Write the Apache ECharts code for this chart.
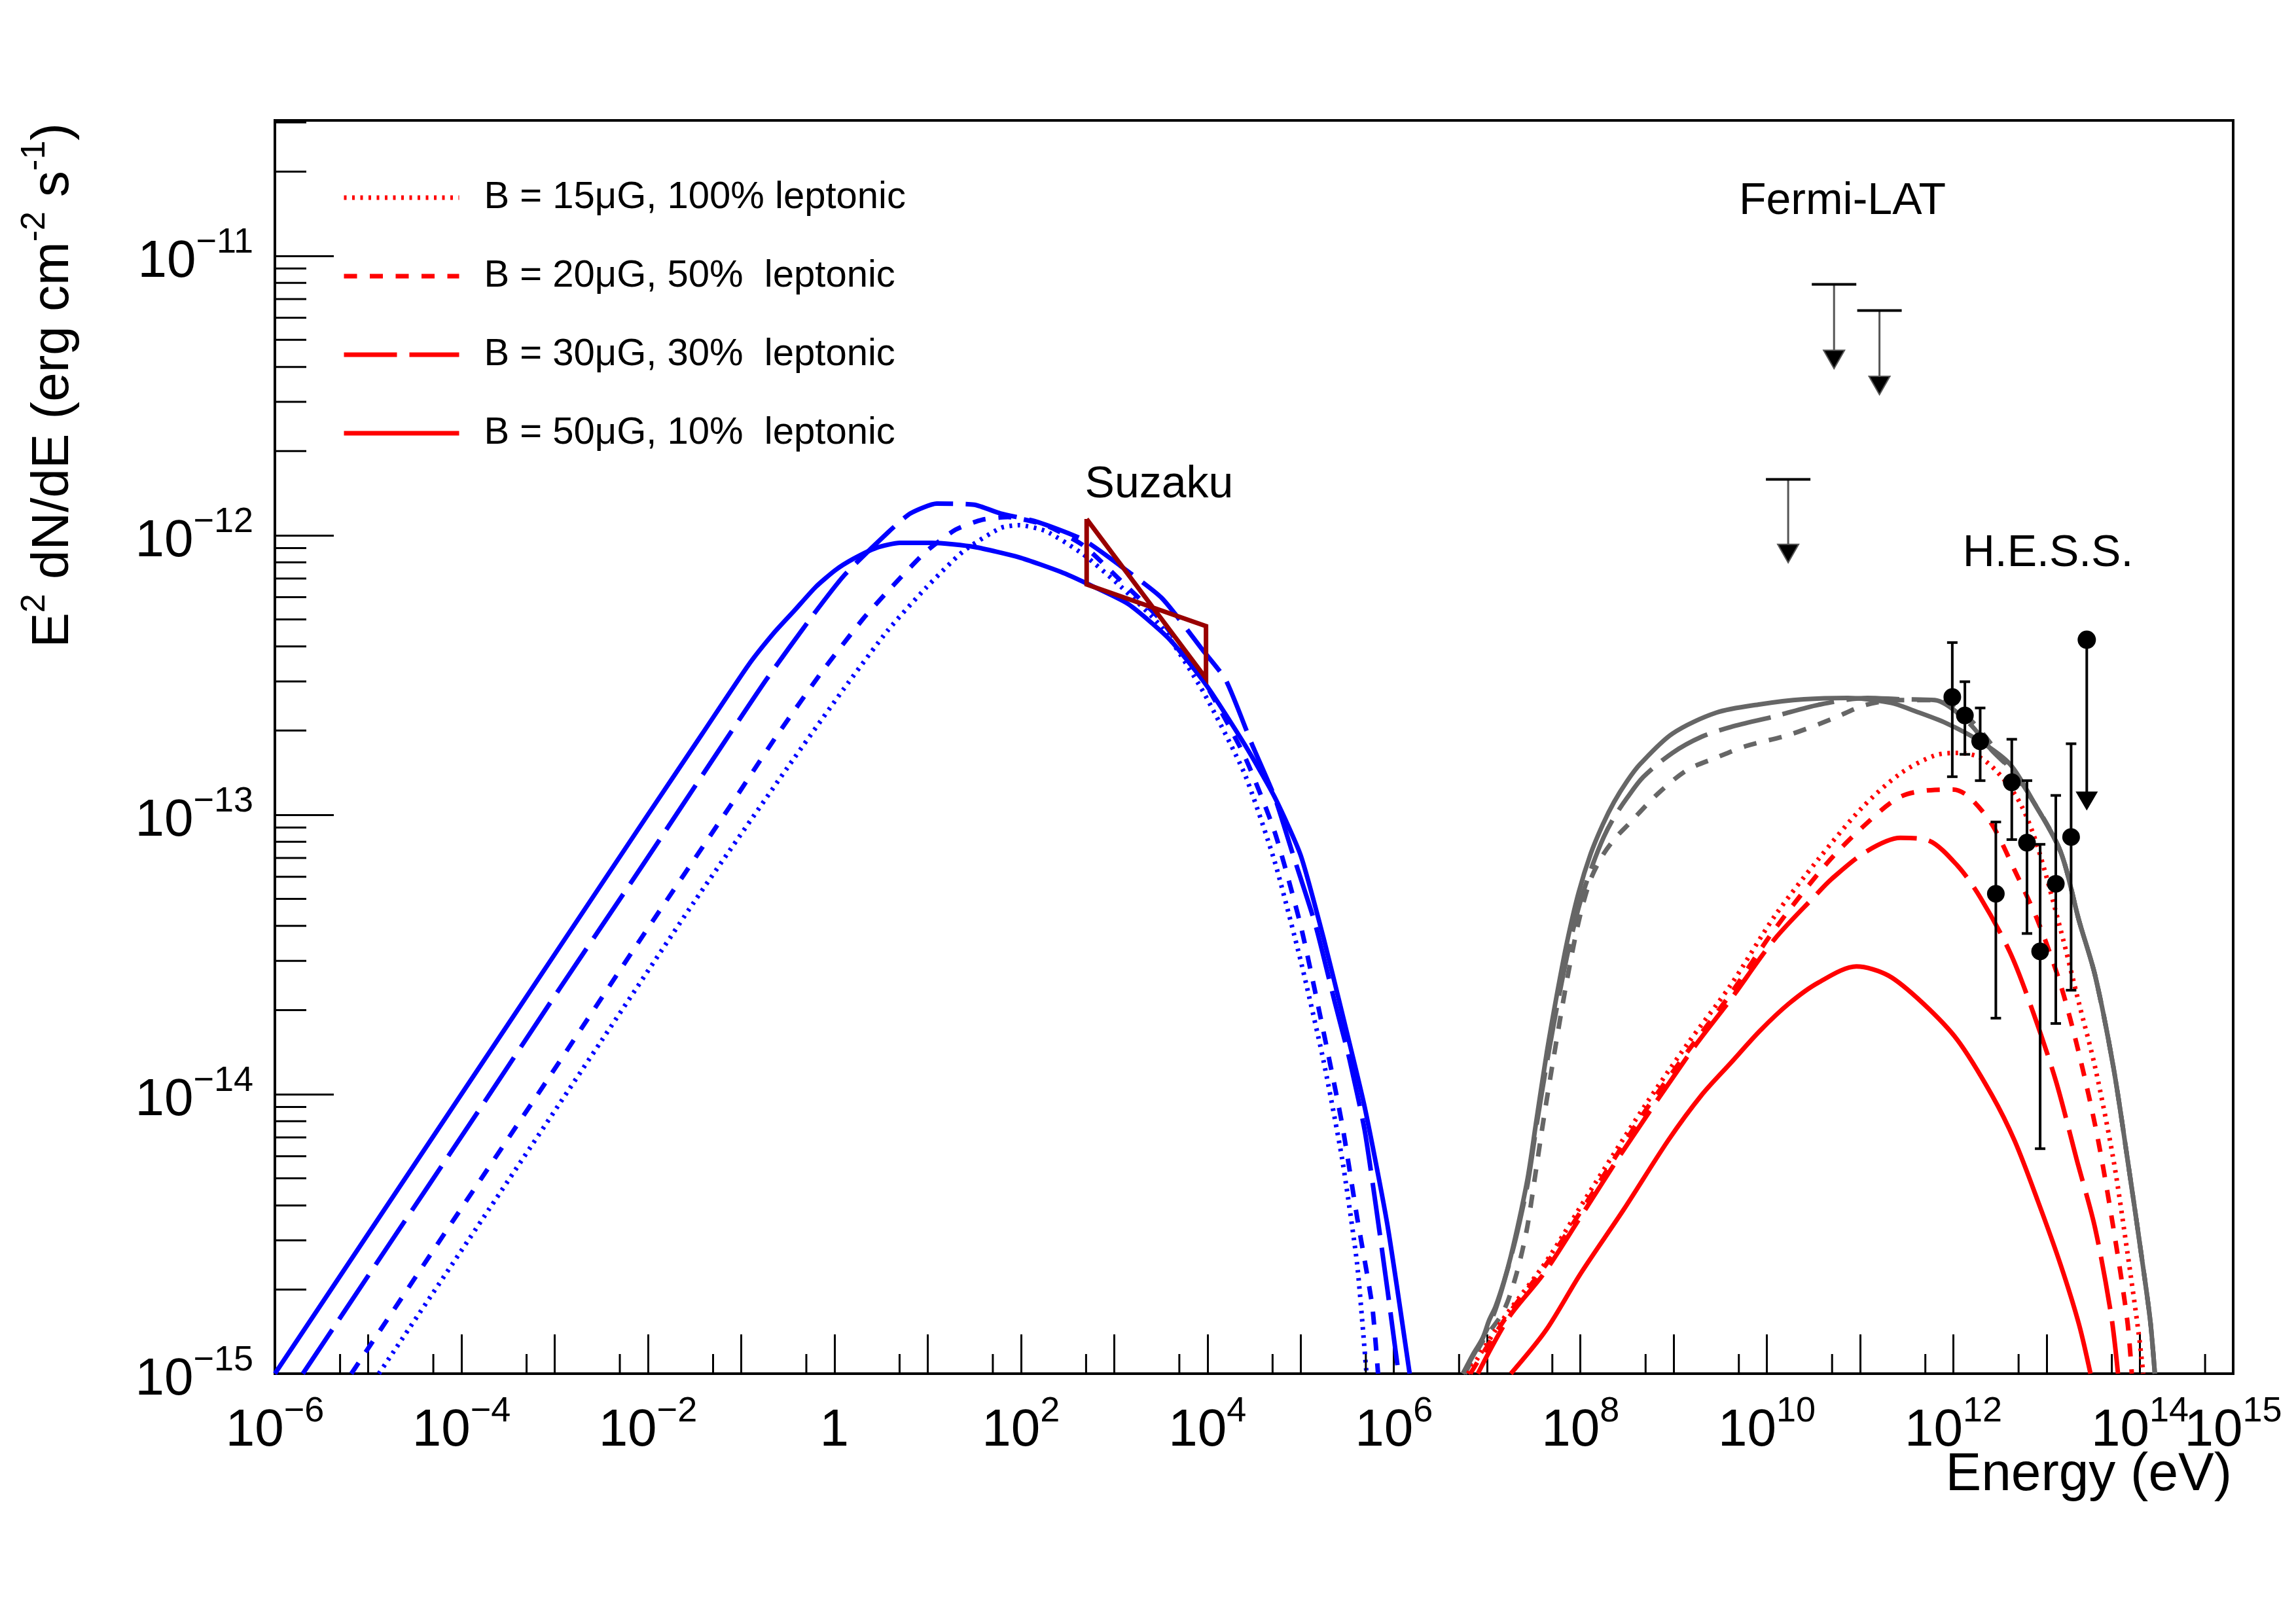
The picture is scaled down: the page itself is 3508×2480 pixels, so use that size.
<!DOCTYPE html>
<html>
<head>
<meta charset="utf-8">
<title>SED</title>
<script src="https://cdn.jsdelivr.net/npm/echarts/dist/echarts.min.js"></script>
<style>html,body{margin:0;padding:0;background:#fff;} #chart{width:3508px;height:2480px;}</style>
</head>
<body>
<div id="chart"></div>
<script>
const FONT = '"Liberation Sans", Arial, Helvetica, sans-serif';

// ---------- axes (values are log10 of Energy [eV] and of E^2 dN/dE [erg cm^-2 s^-1]) ----------
const X_MIN = -6, X_MAX = 15;
const Y_MIN = -15, Y_MAX = Math.log10(3.05e-11);
const xLabelExps = [-6, -4, -2, 0, 2, 4, 6, 8, 10, 12, 14];
const xEndLabelExps = [15];
const yLabelExps = [-15, -14, -13, -12, -11];

const legendNames = [
  'B = 15\u03bcG, 100% leptonic',
  'B = 20\u03bcG, 50%  leptonic',
  'B = 30\u03bcG, 30%  leptonic',
  'B = 50\u03bcG, 10%  leptonic'
];

// ---------- synchrotron curves (blue) : [log10 E, log10 flux] ----------
const synB15 = [[-4.885,-15.0],[-3.7,-14.41],[-2.5,-13.81],[-1.5,-13.31],[-0.5,-12.83],[0.1,-12.55],[0.574,-12.34],[0.977,-12.19],[1.38,-12.058],[1.782,-11.974],[1.98,-11.964],[2.265,-11.985],[2.667,-12.068],[3.069,-12.183],[3.512,-12.33],[3.955,-12.56],[4.398,-12.853],[4.72,-13.166],[5.0,-13.522],[5.243,-13.877],[5.445,-14.232],[5.606,-14.609],[5.706,-15.0]];
const synB20 = [[-5.18,-15.0],[-4.074,-14.445],[-3.09,-13.955],[-2.108,-13.46],[-1.12,-12.97],[-0.628,-12.722],[-0.137,-12.49],[0.305,-12.3],[0.574,-12.2],[0.977,-12.06],[1.3,-11.98],[1.58,-11.945],[1.86,-11.935],[2.265,-11.964],[2.667,-12.036],[3.069,-12.162],[3.512,-12.308],[3.955,-12.518],[4.398,-12.79],[4.72,-13.06],[5.0,-13.396],[5.243,-13.773],[5.445,-14.108],[5.606,-14.442],[5.767,-14.756],[5.83,-15.0]];
const synB30 = [[-5.7,-15.0],[-4.86,-14.58],[-3.827,-14.065],[-2.942,-13.62],[-2.055,-13.18],[-1.17,-12.735],[-0.727,-12.515],[-0.234,-12.288],[0.109,-12.142],[0.574,-11.99],[0.815,-11.922],[1.097,-11.887],[1.5,-11.891],[1.782,-11.922],[2.184,-11.953],[2.667,-12.016],[3.069,-12.11],[3.512,-12.225],[3.955,-12.413],[4.197,-12.518],[4.478,-12.748],[4.72,-12.936],[4.92,-13.145],[5.16,-13.396],[5.364,-13.668],[5.525,-13.877],[5.686,-14.128],[5.807,-14.4],[5.928,-14.693],[6.05,-15.0]];
const synB50 = [[-6.0,-15.0],[-5.0,-14.5],[-4.0,-14.0],[-3.0,-13.5],[-2.0,-13.0],[-1.416,-12.71],[-0.923,-12.465],[-0.65,-12.35],[-0.43,-12.27],[-0.2,-12.185],[0.01,-12.125],[0.2,-12.085],[0.45,-12.045],[0.7,-12.027],[1.05,-12.027],[1.5,-12.042],[1.98,-12.079],[2.426,-12.131],[2.708,-12.173],[3.15,-12.246],[3.593,-12.372],[3.996,-12.54],[4.398,-12.748],[4.72,-12.936],[5.0,-13.145],[5.243,-13.438],[5.445,-13.71],[5.686,-14.045],[5.928,-14.463],[6.169,-15.0]];

// ---------- inverse-Compton curves (red) ----------
const icB15 = [[6.795,-15.0],[7.16,-14.81],[7.63,-14.6],[8.08,-14.36],[8.674,-14.05],[9.144,-13.822],[9.613,-13.609],[10.083,-13.363],[10.55,-13.16],[11.02,-12.975],[11.43,-12.853],[11.8,-12.788],[12.043,-12.779],[12.29,-12.796],[12.53,-12.869],[12.73,-12.968],[12.904,-13.116],[13.15,-13.412],[13.347,-13.675],[13.52,-13.904],[13.716,-14.234],[13.864,-14.562],[13.987,-14.857],[14.036,-15.0]];
const icB20 = [[6.82,-15.0],[7.2,-14.8],[7.63,-14.61],[8.08,-14.38],[8.674,-14.07],[9.144,-13.85],[9.613,-13.64],[10.083,-13.41],[10.646,-13.173],[11.04,-13.04],[11.43,-12.936],[11.8,-12.911],[12.0,-12.91],[12.166,-12.936],[12.412,-13.034],[12.658,-13.2],[12.904,-13.379],[13.15,-13.609],[13.347,-13.855],[13.544,-14.151],[13.716,-14.48],[13.864,-14.808],[13.913,-15.0]];
const icB30 = [[6.9,-15.0],[7.23,-14.8],[7.605,-14.643],[8.0,-14.44],[8.467,-14.198],[9.206,-13.838],[9.613,-13.66],[10.083,-13.445],[10.52,-13.289],[10.69,-13.231],[11.06,-13.133],[11.43,-13.083],[11.723,-13.091],[12.043,-13.182],[12.29,-13.297],[12.609,-13.494],[12.855,-13.707],[13.1,-13.954],[13.322,-14.234],[13.52,-14.48],[13.692,-14.791],[13.765,-15.0]];
const icB50 = [[7.254,-15.0],[7.63,-14.845],[8.0,-14.643],[8.47,-14.41],[8.94,-14.166],[9.3,-14.003],[9.613,-13.888],[9.926,-13.773],[10.239,-13.675],[10.55,-13.601],[10.96,-13.543],[11.305,-13.576],[11.674,-13.675],[12.043,-13.806],[12.412,-14.003],[12.658,-14.168],[12.904,-14.381],[13.15,-14.611],[13.347,-14.824],[13.47,-15.0]];

// ---------- total gamma-ray curves (grey) ----------
const totB20 = [[6.76,-15.0],[6.96,-14.88],[7.17,-14.78],[7.3,-14.66],[7.422,-14.49],[7.52,-14.28],[7.61,-14.08],[7.735,-13.825],[7.857,-13.59],[7.983,-13.38],[8.1,-13.24],[8.23,-13.15],[8.37,-13.085],[8.516,-13.034],[8.83,-12.925],[9.144,-12.84],[9.456,-12.796],[9.77,-12.755],[10.239,-12.714],[10.709,-12.656],[11.06,-12.607],[11.43,-12.59],[11.8,-12.59],[12.166,-12.656],[12.53,-12.803],[12.855,-12.952],[13.15,-13.133],[13.347,-13.379],[13.52,-13.576],[13.716,-13.904],[13.889,-14.283],[14.01,-14.562],[14.11,-14.808],[14.16,-15.0]];
const totB30 = [[6.74,-15.0],[6.952,-14.873],[7.09,-14.77],[7.254,-14.585],[7.35,-14.455],[7.44,-14.31],[7.535,-14.1],[7.66,-13.85],[7.77,-13.65],[7.88,-13.47],[8.0,-13.31],[8.13,-13.18],[8.25,-13.08],[8.36,-13.01],[8.5,-12.94],[8.674,-12.865],[8.986,-12.779],[9.3,-12.721],[9.613,-12.686],[10.083,-12.648],[10.55,-12.607],[11.08,-12.582],[11.43,-12.587],[11.8,-12.59],[12.166,-12.672],[12.412,-12.77],[12.658,-12.852],[12.855,-12.952],[13.15,-13.133],[13.347,-13.379],[13.52,-13.576],[13.716,-13.904],[13.889,-14.283],[14.01,-14.562],[14.11,-14.808],[14.16,-15.0]];
const totB50 = [[6.74,-15.0],[6.85,-14.93],[6.952,-14.873],[7.02,-14.81],[7.09,-14.76],[7.18,-14.67],[7.254,-14.58],[7.35,-14.44],[7.44,-14.29],[7.53,-14.09],[7.64,-13.85],[7.75,-13.64],[7.857,-13.455],[7.98,-13.28],[8.11,-13.14],[8.24,-13.035],[8.36,-12.955],[8.5,-12.88],[8.643,-12.818],[8.986,-12.71],[9.456,-12.635],[9.926,-12.605],[10.396,-12.587],[10.866,-12.582],[11.335,-12.6],[11.552,-12.625],[11.92,-12.672],[12.29,-12.738],[12.609,-12.82],[12.855,-12.952],[13.15,-13.133],[13.347,-13.379],[13.52,-13.576],[13.716,-13.904],[13.889,-14.283],[14.01,-14.562],[14.11,-14.808],[14.16,-15.0]];

// ---------- measurements ----------
// Suzaku bow-tie outline (0.5-10 keV)
const suzakuBowtie = [[2.705,-11.942],[2.705,-12.176],[3.985,-12.325],[3.985,-12.512],[2.705,-11.942]];
// H.E.S.S. points: [log10 E, log10 F, log10 F_low, log10 F_high]
const hessPoints = [[11.988,-12.579,-12.864,-12.384],[12.123,-12.645,-12.784,-12.524],[12.287,-12.737,-12.878,-12.618],[12.455,-13.283,-13.728,-13.026],[12.626,-12.884,-13.089,-12.73],[12.789,-13.1,-13.425,-12.878],[12.93,-13.489,-14.195,-13.106],[13.098,-13.247,-13.747,-12.931],[13.262,-13.08,-13.628,-12.746]];
// H.E.S.S. upper limit: [log10 E, log10 F (dot), log10 F (arrow tip)]
const hessUL = [[13.43,-12.374,-12.985]];
// Fermi-LAT upper limits: [log10 E, log10 F (bar), log10 F (arrow tip)]
const fermiUL = [[10.228,-11.8,-12.098],[10.72,-11.102,-11.404],[11.207,-11.196,-11.497]];

// ---------- tick helpers ----------
const xMinorTicks = [];
for (let n = X_MIN; n < X_MAX; n++) xMinorTicks.push(n + Math.log10(5));
const yMinorTicks = [];
for (let n = Y_MIN; n < Y_MAX; n++) for (let k = 2; k <= 9; k++) { const v = n + Math.log10(k); if (v < Y_MAX) yMinorTicks.push(v); }

const MINUS = '\u2212';
const isInt = v => Math.abs(v - Math.round(v)) < 1e-6;
const expLabel = n => n === 0 ? '{b|1}' : '{b|10}{e|' + (n < 0 ? MINUS : '') + Math.abs(n) + '}';
const tickRich = {
  b: {fontFamily: FONT, fontSize: 80, lineHeight: 100, verticalAlign: 'bottom', color: '#000'},
  e: {fontFamily: FONT, fontSize: 54, verticalAlign: 'bottom', padding: [0, 0, 43, 0], color: '#000'}
};
const labelFor = list => v => (isInt(v) && list.includes(Math.round(v))) ? expLabel(Math.round(v)) : '';

const DOT = [4, 8.5], SHORT = [20, 19.5], LONG = [81, 19];
function curve(name, data, color, dash, z, smooth) {
  return {
    type: 'line', name, data, symbol: 'none', showSymbol: false, smooth, clip: true, z,
    lineStyle: {color, width: 7, type: dash, cap: 'butt', join: 'round'},
    itemStyle: {color}, silent: true, animation: false
  };
}
const BLUE = '#0000ff', RED = '#ff0000', GREY = '#666666', DARKRED = '#990000';

const chart = echarts.init(document.getElementById('chart'), null, {renderer: 'canvas'});
const option = {
  animation: false,
  backgroundColor: '#fff',
  grid: {left: 420, right: 96, top: 184, bottom: 381, show: true, borderColor: '#000', borderWidth: 4, outerBoundsMode: 'none', containLabel: false},
  xAxis: [{
    type: 'value', min: X_MIN, max: X_MAX, interval: 1, position: 'bottom',
    axisLine: {show: true, onZero: false, lineStyle: {color: '#000', width: 4}},
    axisTick: {show: true, inside: true, length: 60, lineStyle: {color: '#000', width: 3}},
    axisLabel: {show: true, margin: 28, hideOverlap: false, showMinLabel: true, showMaxLabel: false,
      formatter: labelFor(xLabelExps), rich: tickRich},
    splitLine: {show: false}
  }, {
    type: 'value', min: X_MIN, max: X_MAX, interval: 1, position: 'bottom', offset: 0,
    axisLine: {show: false}, axisTick: {show: false}, splitLine: {show: false},
    axisLabel: {show: true, margin: 28, hideOverlap: false, showMinLabel: false, showMaxLabel: true,
      formatter: labelFor(xEndLabelExps), rich: tickRich}
  }],
  yAxis: {
    type: 'value', min: Y_MIN, max: Y_MAX, interval: 1,
    axisLine: {show: true, onZero: false, lineStyle: {color: '#000', width: 4}},
    axisTick: {show: true, inside: true, length: 90, lineStyle: {color: '#000', width: 3}},
    axisLabel: {show: true, margin: 33, hideOverlap: false, showMinLabel: true, showMaxLabel: false,
      formatter: labelFor(yLabelExps), rich: tickRich},
    splitLine: {show: false}
  },
  legend: {
    data: legendNames, orient: 'vertical', left: 522, top: 267, padding: 0,
    itemWidth: 176, itemHeight: 60, itemGap: 50, selectedMode: false,
    textStyle: {fontFamily: FONT, fontSize: 58, color: '#000', lineHeight: 60, padding: [10, 0, 0, 33]},
    itemStyle: {opacity: 0},
    lineStyle: {width: 7}
  },
  graphic: [
    {type: 'text', x: 2815, y: 308, silent: true, style: {text: 'Fermi-LAT', font: '68px ' + FONT, fill: '#000', align: 'center', verticalAlign: 'middle', textAlign: 'center', textVerticalAlign: 'middle'}},
    {type: 'text', x: 3129, y: 846, silent: true, style: {text: 'H.E.S.S.', font: '68px ' + FONT, fill: '#000', align: 'center', verticalAlign: 'middle', textAlign: 'center', textVerticalAlign: 'middle'}},
    {type: 'text', x: 1771, y: 741, silent: true, style: {text: 'Suzaku', font: '68px ' + FONT, fill: '#000', align: 'center', verticalAlign: 'middle', textAlign: 'center', textVerticalAlign: 'middle'}},
    {type: 'text', x: 3410, y: 2254, silent: true, style: {text: 'Energy (eV)', font: '82px ' + FONT, fill: '#000', align: 'right', verticalAlign: 'middle', textAlign: 'right', textVerticalAlign: 'middle'}},
    {type: 'text', x: 67, y: 188, rotation: Math.PI / 2, silent: true, style: {
      text: '{m|E}{s|2}{m| dN/dE (erg cm}{s|-2}{m| s}{s|-1}{m|)}',
      align: 'right', verticalAlign: 'middle', textAlign: 'right', textVerticalAlign: 'middle',
      rich: {
        m: {fontFamily: FONT, fontSize: 80, lineHeight: 110, verticalAlign: 'bottom', fill: '#000', color: '#000'},
        s: {fontFamily: FONT, fontSize: 52, verticalAlign: 'bottom', padding: [0, 0, 42, 0], fill: '#000', color: '#000'}
      }
    }}
  ],
  series: [
    // minor ticks (positioned by the axes' scales)
    {type: 'custom', name: 'xMinor', silent: true, clip: false, z: 5, data: xMinorTicks.map(v => [v, Y_MIN]),
      renderItem: (p, api) => { const c = api.coord([api.value(0), api.value(1)]);
        return {type: 'line', shape: {x1: c[0], y1: c[1], x2: c[0], y2: c[1] - 30}, style: {stroke: '#000', lineWidth: 3}}; }},
    {type: 'custom', name: 'yMinor', silent: true, clip: false, z: 5, data: yMinorTicks.map(v => [X_MIN, v]),
      renderItem: (p, api) => { const c = api.coord([api.value(0), api.value(1)]);
        return {type: 'line', shape: {x1: c[0], y1: c[1], x2: c[0] + 48, y2: c[1]}, style: {stroke: '#000', lineWidth: 3}}; }},

    curve('syn15', synB15, BLUE, DOT, 2, 0.2),
    curve('syn20', synB20, BLUE, SHORT, 2, 0.2),
    curve('syn30', synB30, BLUE, LONG, 2, 0.2),
    curve('syn50', synB50, BLUE, 'solid', 2, 0.2),

    curve('tot20', totB20, GREY, SHORT, 3, 0.3),
    curve('tot30', totB30, GREY, LONG, 3, 0.3),
    curve('tot50', totB50, GREY, 'solid', 3, 0.3),

    curve(legendNames[0], icB15, RED, DOT, 4, 0.3),
    curve(legendNames[1], icB20, RED, SHORT, 4, 0.3),
    curve(legendNames[2], icB30, RED, LONG, 4, 0.3),
    curve(legendNames[3], icB50, RED, 'solid', 4, 0.3),

    {type: 'line', name: 'Suzaku', data: suzakuBowtie, symbol: 'none', showSymbol: false, z: 8, clip: true, silent: true,
      lineStyle: {color: DARKRED, width: 7, join: 'miter'}, itemStyle: {color: DARKRED}},

    // Fermi-LAT upper limits
    {type: 'custom', name: 'fermiUL', silent: true, z: 10, data: fermiUL,
      renderItem: (p, api) => {
        const top = api.coord([api.value(0), api.value(1)]);
        const tip = api.coord([api.value(0), api.value(2)]);
        return {type: 'group', children: [
          {type: 'line', shape: {x1: top[0], y1: top[1], x2: tip[0], y2: tip[1] - 27}, style: {stroke: '#555', lineWidth: 3}},
          {type: 'line', shape: {x1: top[0] - 34, y1: top[1], x2: top[0] + 34, y2: top[1]}, style: {stroke: '#000', lineWidth: 4}},
          {type: 'polygon', shape: {points: [[tip[0] - 16, tip[1] - 28], [tip[0] + 16, tip[1] - 28], [tip[0], tip[1]]]}, style: {fill: '#000', stroke: '#555', lineWidth: 2}}
        ]};
      }},

    // H.E.S.S. error bars
    {type: 'custom', name: 'hessErr', silent: true, z: 10, data: hessPoints,
      renderItem: (p, api) => {
        const lo = api.coord([api.value(0), api.value(2)]);
        const hi = api.coord([api.value(0), api.value(3)]);
        const st = {stroke: '#000', lineWidth: 4};
        return {type: 'group', children: [
          {type: 'line', shape: {x1: lo[0], y1: lo[1], x2: hi[0], y2: hi[1]}, style: st},
          {type: 'line', shape: {x1: lo[0] - 8, y1: lo[1], x2: lo[0] + 8, y2: lo[1]}, style: st},
          {type: 'line', shape: {x1: hi[0] - 8, y1: hi[1], x2: hi[0] + 8, y2: hi[1]}, style: st}
        ]};
      }},
    // H.E.S.S. upper limit
    {type: 'custom', name: 'hessUL', silent: true, z: 10, data: hessUL,
      renderItem: (p, api) => {
        const top = api.coord([api.value(0), api.value(1)]);
        const tip = api.coord([api.value(0), api.value(2)]);
        return {type: 'group', children: [
          {type: 'line', shape: {x1: top[0], y1: top[1], x2: tip[0], y2: tip[1] - 28}, style: {stroke: '#000', lineWidth: 4}},
          {type: 'polygon', shape: {points: [[tip[0] - 17, tip[1] - 29], [tip[0] + 17, tip[1] - 29], [tip[0], tip[1]]]}, style: {fill: '#000'}},
          {type: 'circle', shape: {cx: top[0], cy: top[1], r: 14}, style: {fill: '#000'}}
        ]};
      }},
    {type: 'scatter', name: 'hess', data: hessPoints.map(d => [d[0], d[1]]), symbol: 'circle', symbolSize: 27,
      itemStyle: {color: '#000', opacity: 1}, z: 12, silent: true}
  ]
};
chart.setOption(option);
</script>
</body>
</html>
